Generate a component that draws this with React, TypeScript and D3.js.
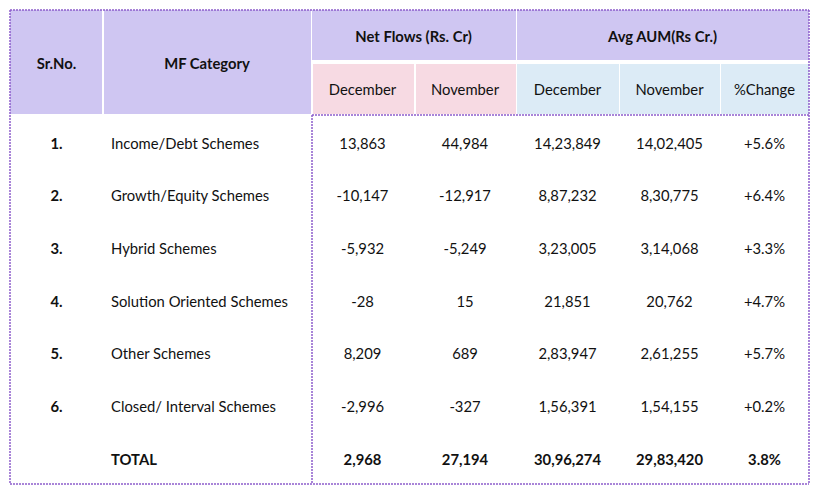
import React from "react";
import * as d3 from "d3";

const srNos = ["1.", "2.", "3.", "4.", "5.", "6."];
const categories = [
  "Income/Debt Schemes",
  "Growth/Equity Schemes",
  "Hybrid Schemes",
  "Solution Oriented Schemes",
  "Other Schemes",
  "Closed/ Interval Schemes",
];
const netFlowDec = ["13,863", "-10,147", "-5,932", "-28", "8,209", "-2,996"];
const netFlowNov = ["44,984", "-12,917", "-5,249", "15", "689", "-327"];
const aumDec = ["14,23,849", "8,87,232", "3,23,005", "21,851", "2,83,947", "1,56,391"];
const aumNov = ["14,02,405", "8,30,775", "3,14,068", "20,762", "2,61,255", "1,54,155"];
const pctChange = ["+5.6%", "+6.4%", "+3.3%", "+4.7%", "+5.7%", "+0.2%"];
const totalRow = ["TOTAL", "2,968", "27,194", "30,96,274", "29,83,420", "3.8%"];
const groupHeaders = ["Net Flows (Rs. Cr)", "Avg AUM(Rs Cr.)"];
const subHeaders = ["December", "November", "December", "November", "%Change"];

const FONT = "Lato, 'Open Sans', sans-serif";
const PURPLE = "#cfc6f2";
const PINK = "#f7dae3";
const BLUE = "#dcebf6";
const BORDER = "#8d5ecb";

export default function App() {
  const W = 822, H = 499;
  const left = 10, right = 809, top = 10, bottom = 484;
  const headTop = top, headMid = 62, headBot = 114;
  const edges = [10, 103, 311, 414, 516, 619, 720, 809];
  const colX = (i: number) => edges[i];
  const colC = (i: number) => (edges[i] + edges[i + 1]) / 2;

  const rowKeys = [...srNos.map((_, i) => String(i)), "total"];
  const y = d3.scaleBand<string>().domain(rowKeys).range([headBot + 3, bottom + 2]);

  const gap = 1;
  const dash = "2,1";
  const fs = 14.8;

  return (
    <svg width={W} height={H} style={{ position: "absolute", left: 0, top: 0, background: "#fff" }}>
      <rect x={colX(0)} y={headTop} width={colX(1) - colX(0) - gap} height={headBot - headTop} fill={PURPLE} />
      <rect x={colX(1) + gap} y={headTop} width={colX(2) - colX(1) - gap} height={headBot - headTop} fill={PURPLE} />
      <rect x={colX(2) + gap} y={headTop} width={colX(4) - colX(2) - gap} height={headMid - headTop - 2} fill={PURPLE} />
      <rect x={colX(4) + gap} y={headTop} width={colX(7) - colX(4) - gap} height={headMid - headTop - 2} fill={PURPLE} />
      {[2, 3].map((c) => (
        <rect key={c} x={colX(c) + gap + 1} y={headMid + 2} width={colX(c + 1) - colX(c) - gap - 1} height={headBot - headMid - 2} fill={PINK} />
      ))}
      {[4, 5, 6].map((c) => (
        <rect key={c} x={colX(c) + gap} y={headMid + 2} width={colX(c + 1) - colX(c) - gap} height={headBot - headMid - 2} fill={BLUE} />
      ))}

      <g fontFamily={FONT} fontSize={fs} fill="#111" textAnchor="middle">
        <text x={colC(0)} y={(headTop + headBot) / 2 + 1.5} dy="0.35em" fontWeight="bold">Sr.No.</text>
        <text x={colC(1)} y={(headTop + headBot) / 2 + 1.5} dy="0.35em" fontWeight="bold">MF Category</text>
        <text x={(colX(2) + colX(4)) / 2} y={(headTop + headMid) / 2 + 1} dy="0.35em" fontWeight="bold">{groupHeaders[0]}</text>
        <text x={(colX(4) + colX(7)) / 2} y={(headTop + headMid) / 2 + 1} dy="0.35em" fontWeight="bold">{groupHeaders[1]}</text>
        {subHeaders.map((s, i) => (
          <text key={i} x={colC(i + 2)} y={(headMid + headBot) / 2 + 2} dy="0.35em">{s}</text>
        ))}
      </g>

      <g fontFamily={FONT} fontSize={fs} fill="#111">
        {srNos.map((s, i) => {
          const cy = (y(String(i)) as number) + y.bandwidth() / 2;
          const vals = [netFlowDec[i], netFlowNov[i], aumDec[i], aumNov[i], pctChange[i]];
          return (
            <g key={i}>
              <text x={colC(0)} y={cy} dy="0.35em" textAnchor="middle" fontWeight="bold">{s}</text>
              <text x={colX(1) + 8} y={cy} dy="0.35em">{categories[i]}</text>
              {vals.map((v, j) => (
                <text key={j} x={colC(j + 2)} y={cy} dy="0.35em" textAnchor="middle">{v}</text>
              ))}
            </g>
          );
        })}
        {(() => {
          const cy = (y("total") as number) + y.bandwidth() / 2;
          return (
            <g fontWeight="bold">
              <text x={colX(1) + 8} y={cy} dy="0.35em">{totalRow[0]}</text>
              {totalRow.slice(1).map((v, j) => (
                <text key={j} x={colC(j + 2)} y={cy} dy="0.35em" textAnchor="middle">{v}</text>
              ))}
            </g>
          );
        })()}
      </g>

      <g stroke={BORDER} strokeWidth={1.5} strokeDasharray={dash} fill="none">
        <line x1={left} x2={right} y1={top} y2={top} />
        <line x1={left} x2={right} y1={bottom} y2={bottom} />
        <line x1={left} x2={left} y1={top} y2={bottom} />
        <line x1={right} x2={right} y1={top} y2={bottom} />
        <line x1={colX(2) + 1} x2={right} y1={headBot + 1} y2={headBot + 1} />
        <line x1={colX(2) + 1} x2={colX(2) + 1} y1={headBot + 1} y2={bottom} />
      </g>
    </svg>
  );
}
